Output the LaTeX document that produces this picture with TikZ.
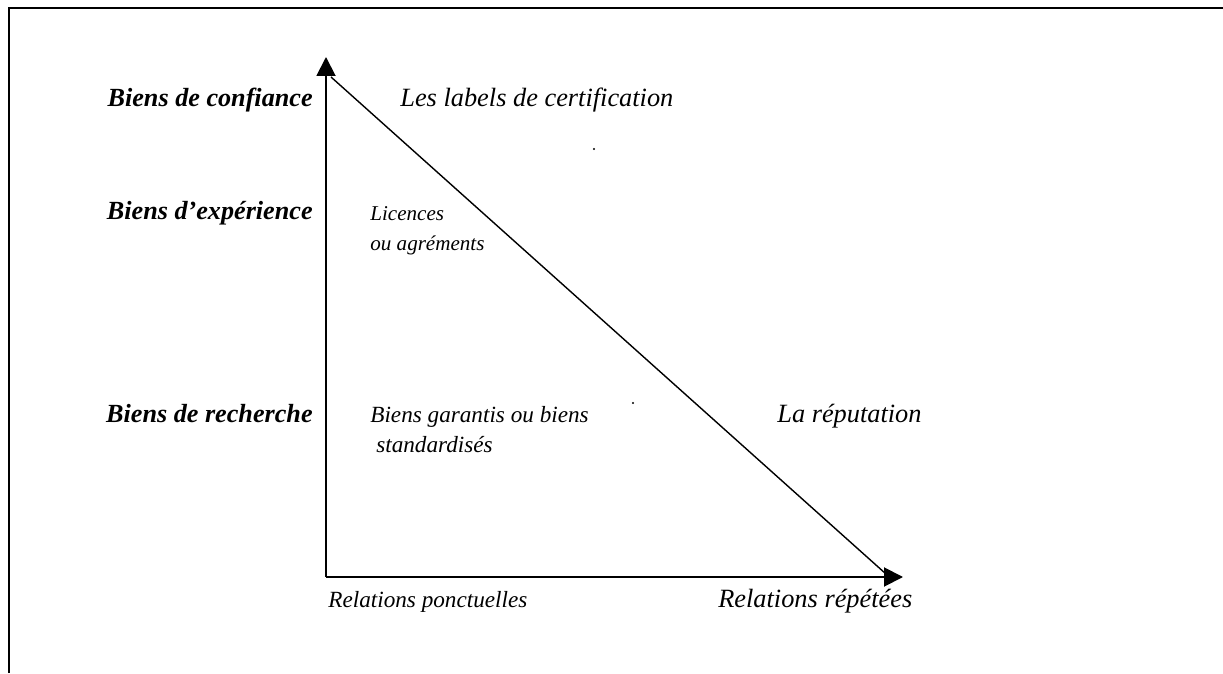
\documentclass[tikz,border=0pt]{standalone}
\usepackage{fontspec}
\setmainfont{Liberation Serif}
\usetikzlibrary{arrows.meta}

\begin{document}
\begin{tikzpicture}[x=0.02cm, y=0.02cm,
    axe/.style={line width=1.1pt, -{Triangle[length=0.38cm, width=0.38cm]}},
    bien/.style={anchor=base east, inner sep=0pt,
      font=\fontsize{14.9}{17.6}\selectfont\bfseries\itshape},
    signal/.style={anchor=base west, inner sep=0pt, align=left, font=\itshape},
    tache/.style={circle, fill, inner sep=0pt, minimum size=1.4pt}]
    \fontsize{13.2}{17.6}\selectfont
    \useasboundingbox (0,0) rectangle (1223,673);
    % Frame
    \draw [line width=1.4pt] (9,0) -- (9,665) -- (1223,665);

    % Axes
    \coordinate (origine) at (326,96);
    \coordinate (haut) at (326,616);
    \coordinate (droite) at (903,96);
    \coordinate (sommet) at (331,596);
    \coordinate (pied) at (886,99);
    \draw [axe] (origine) -- (haut);
    \draw [axe] (origine) -- (droite);
    \draw [line width=0.8pt] (sommet) -- (pied);

    % Nodes
    \node (confiance) [bien] at (313,566) {Biens de confiance};
    \node (experience) [bien] at (313,453) {Biens d’expérience};
    \node (recherche) [bien] at (313,251) {Biens de recherche};

    \node (labels) [signal, font=\fontsize{15}{17.6}\selectfont\itshape]
      at (400,566) {Les labels de certification};
    \node (licences) [signal, font=\fontsize{12}{17.6}\selectfont\itshape]
      at (370,422) {Licences\\ou agréments};
    \node (garantis) [signal] at (370,220)
      {Biens garantis ou biens\\\hspace*{3.4pt}standardisés};
    \node (reputation) [signal, font=\fontsize{15}{17.6}\selectfont\itshape]
      at (777,251) {La réputation};

    \node (ponctuelles) [signal] at (328,66) {Relations ponctuelles};
    \node (repetees) [signal, font=\fontsize{15}{17.6}\selectfont\itshape]
      at (718,66) {Relations répétées};

    \node (tache1) [tache] at (594,524) {};
    \node (tache2) [tache] at (633,270) {};
  \end{tikzpicture}
\end{document}
